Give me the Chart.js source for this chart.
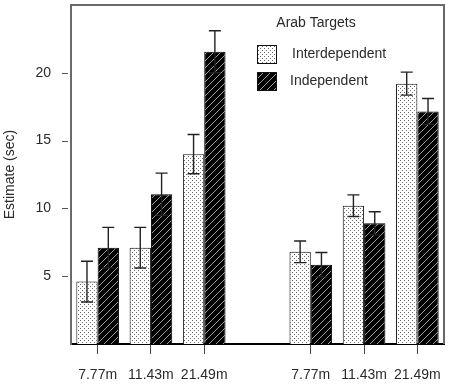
<!DOCTYPE html>
<html>
<head>
<meta charset="utf-8">
<script src="https://cdn.jsdelivr.net/npm/chart.js@4/dist/chart.umd.min.js"></script>
<style>
  html, body { margin: 0; padding: 0; background: #fff; }
  #wrap { width: 454px; height: 384px; }
</style>
</head>
<body>
<div id="wrap"><canvas id="chart" width="454" height="384"></canvas></div>
<script>
// ---------- dados ----------
const categorias = ["7.77m", "11.43m", "21.49m", "", "7.77m", "11.43m", "21.49m"];
const interdependent = [4.6, 7.1, 14.0, null, 6.8, 10.2, 19.2];
const interdependentErr = [1.5, 1.5, 1.45, null, 0.8, 0.8, 0.85];
const independent = [7.1, 11.05, 21.55, null, 5.85, 8.9, 17.15];
const independentErr = [1.5, 1.55, 1.55, null, 0.9, 0.85, 0.95];
const yTicks = [5, 10, 15, 20];

const FONT = "'Liberation Sans', Arial, Helvetica, sans-serif";
const FONT_SIZE = 14;
const TEXT = "#2a2a2a";

// ---------- padrões ----------
function padraoPontilhado() {
  const c = document.createElement("canvas");
  c.width = 4; c.height = 4;
  const g = c.getContext("2d");
  g.fillStyle = "#ffffff";
  g.fillRect(0, 0, 4, 4);
  g.fillStyle = "#666666";
  g.fillRect(0, 0, 1, 1);
  g.fillRect(2, 2, 1, 1);
  return g.createPattern(c, "repeat");
}

function padraoHachurado() {
  const s = 7;
  const c = document.createElement("canvas");
  c.width = s; c.height = s;
  const g = c.getContext("2d");
  g.fillStyle = "#000000";
  g.fillRect(0, 0, s, s);
  g.strokeStyle = "#b0b0b0";
  g.lineWidth = 0.9;
  g.beginPath();
  g.moveTo(0, s); g.lineTo(s, 0);
  g.moveTo(-1, 1); g.lineTo(1, -1);
  g.moveTo(s - 1, s + 1); g.lineTo(s + 1, s - 1);
  g.stroke();
  return g.createPattern(c, "repeat");
}

const dotFill = padraoPontilhado();
const hatchFill = padraoHachurado();

// ---------- barras de erro + moldura + legenda ----------
const extrasPlugin = {
  id: "extras",
  afterDatasetsDraw(chart) {
    const ctx = chart.ctx;
    const y = chart.scales.y;
    const erros = [interdependentErr, independentErr];
    ctx.save();
    ctx.strokeStyle = "#222";
    ctx.lineWidth = 1.4;
    chart.data.datasets.forEach((ds, di) => {
      const meta = chart.getDatasetMeta(di);
      meta.data.forEach((bar, i) => {
        const v = ds.data[i];
        const e = erros[di][i];
        if (v == null || e == null) return;
        const x = bar.x;
        const yTop = y.getPixelForValue(v + e);
        const yBot = y.getPixelForValue(v - e);
        const yVal = y.getPixelForValue(v);
        ctx.beginPath();
        ctx.moveTo(x, yVal); ctx.lineTo(x, yTop);
        ctx.moveTo(x - 6, yTop); ctx.lineTo(x + 6, yTop);
        ctx.moveTo(x, yVal); ctx.lineTo(x, yBot);
        ctx.moveTo(x - 6, yBot); ctx.lineTo(x + 6, yBot);
        ctx.stroke();
      });
    });
    ctx.restore();
  },
  afterDraw(chart) {
    const ctx = chart.ctx;
    const a = chart.chartArea;
    const y = chart.scales.y;
    ctx.save();
    // moldura (topo e direita)
    ctx.strokeStyle = "#6a6a6a";
    ctx.lineWidth = 2;
    ctx.beginPath();
    ctx.moveTo(a.left, a.top); ctx.lineTo(a.right, a.top); ctx.lineTo(a.right, a.bottom);
    ctx.stroke();
    // marcas do eixo y (separadas do eixo)
    ctx.strokeStyle = "#555";
    ctx.lineWidth = 1;
    yTicks.forEach((t) => {
      const py = Math.round(y.getPixelForValue(t)) + 0.5;
      ctx.beginPath();
      ctx.moveTo(a.left - 9, py); ctx.lineTo(a.left - 3, py);
      ctx.stroke();
    });
    // legenda
    ctx.fillStyle = TEXT;
    ctx.font = FONT_SIZE + "px " + FONT;
    ctx.textBaseline = "middle";
    ctx.textAlign = "center";
    ctx.fillText("Arab Targets", 316, 23);
    ctx.textAlign = "left";
    const itens = [
      { fill: dotFill, label: "Interdependent", y: 45, tx: 292 },
      { fill: hatchFill, label: "Independent", y: 72, tx: 290 },
    ];
    itens.forEach((it) => {
      ctx.fillStyle = it.fill;
      ctx.fillRect(257, it.y, 19, 18);
      ctx.strokeStyle = "#111";
      ctx.lineWidth = 1;
      ctx.strokeRect(257.5, it.y + 0.5, 19, 18);
      ctx.fillStyle = TEXT;
      ctx.fillText(it.label, it.tx, it.y + 9.5);
    });
    ctx.restore();
  },
};

// ---------- gráfico ----------
new Chart(document.getElementById("chart").getContext("2d"), {
  type: "bar",
  data: {
    labels: categorias,
    datasets: [
      {
        label: "Interdependent",
        data: interdependent,
        backgroundColor: dotFill,
        borderColor: "#111",
        borderWidth: 1,
        categoryPercentage: 0.8,
        barPercentage: 1.0,
      },
      {
        label: "Independent",
        data: independent,
        backgroundColor: hatchFill,
        borderColor: "#000",
        borderWidth: 1,
        categoryPercentage: 0.8,
        barPercentage: 1.0,
      },
    ],
  },
  options: {
    responsive: false,
    animation: false,
    layout: { padding: { top: 5, right: 4, left: 0, bottom: 0 } },
    plugins: {
      legend: { display: false },
      tooltip: { enabled: false },
    },
    scales: {
      x: {
        afterFit: (s) => { s.height = 40; },
        grid: {
          offset: false,
          drawOnChartArea: false,
          drawTicks: true,
          tickLength: 10,
          color: (c) => (c.index === 3 ? "rgba(0,0,0,0)" : "#444"),
        },
        border: { display: true, color: "#000", width: 2 },
        ticks: {
          autoSkip: false,
          maxRotation: 0,
          padding: 13,
          color: TEXT,
          font: { family: FONT, size: FONT_SIZE },
        },
      },
      y: {
        min: 0,
        max: 25,
        afterFit: (s) => { s.width = 71; s.paddingTop = 0; s.paddingBottom = 0; },
        grid: { drawOnChartArea: false, drawTicks: false },
        border: { display: true, color: "#6a6a6a", width: 2 },
        ticks: {
          stepSize: 5,
          padding: 20,
          color: TEXT,
          font: { family: FONT, size: FONT_SIZE },
          callback: (v) => (yTicks.includes(v) ? v : null),
        },
        title: {
          display: true,
          text: "Estimate (sec)",
          color: TEXT,
          padding: { top: 2, bottom: 0 },
          font: { family: FONT, size: FONT_SIZE },
        },
      },
    },
  },
  plugins: [extrasPlugin],
});
</script>
</body>
</html>
